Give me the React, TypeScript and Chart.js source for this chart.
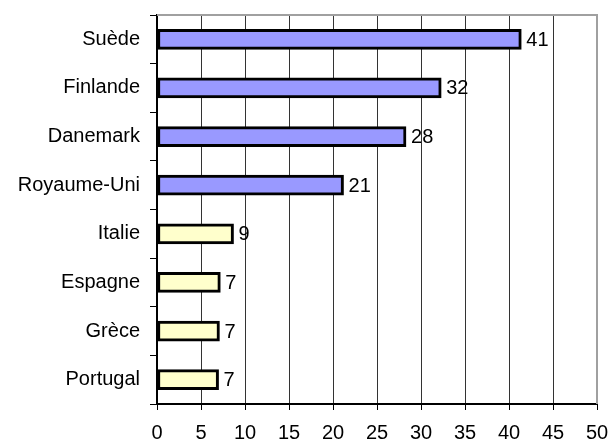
import React, { useEffect, useRef } from "react";
import { Chart, registerables } from "chart.js";

Chart.register(...registerables);

const categories = ["Suède", "Finlande", "Danemark", "Royaume-Uni", "Italie", "Espagne", "Grèce", "Portugal"];
const values = [41.4, 32.3, 28.3, 21.2, 8.7, 7.2, 7.1, 7.0];
const barColors = ["#9999FF", "#9999FF", "#9999FF", "#9999FF", "#FFFFCC", "#FFFFCC", "#FFFFCC", "#FFFFCC"];
const xMin = 0;
const xMax = 50;
const xStep = 5;

const FONT = "'Liberation Sans', Arial, sans-serif";

const frameAndLabels = {
  id: "frameAndLabels",
  afterDatasetsDraw(chart: any) {
    const { ctx, chartArea } = chart;
    ctx.save();
    ctx.strokeStyle = "#a0a0a0";
    ctx.lineWidth = 2;
    ctx.beginPath();
    ctx.moveTo(chartArea.left, chartArea.top);
    ctx.lineTo(chartArea.right, chartArea.top);
    ctx.lineTo(chartArea.right, chartArea.bottom);
    ctx.stroke();
    const meta = chart.getDatasetMeta(0);
    ctx.fillStyle = "#000";
    ctx.font = `20px ${FONT}`;
    ctx.textBaseline = "middle";
    ctx.textAlign = "left";
    meta.data.forEach((bar: any, i: number) => {
      const v = chart.data.datasets[0].data[i] as number;
      ctx.fillText(String(Math.round(v)), bar.x + 5, bar.y + 1);
    });
    ctx.restore();
  },
};

export default function App() {
  const ref = useRef<HTMLCanvasElement>(null);
  useEffect(() => {
    if (!ref.current) return;
    const chart = new Chart(ref.current, {
      type: "bar",
      data: {
        labels: categories,
        datasets: [
          {
            data: values,
            backgroundColor: barColors,
            borderColor: "#000",
            borderWidth: 3,
            borderSkipped: false,
            barThickness: 20,
          },
        ],
      },
      options: {
        indexAxis: "y",
        responsive: false,
        animation: false,
        layout: { padding: { top: 15, right: 11, left: 0, bottom: 0 } },
        plugins: {
          legend: { display: false },
          tooltip: { enabled: false },
        },
        scales: {
          x: {
            min: xMin,
            max: xMax,
            ticks: {
              stepSize: xStep,
              color: "#000",
              font: { family: FONT, size: 20 },
              padding: 11,
              maxRotation: 0,
            },
            grid: {
              color: "#333",
              lineWidth: 1,
              tickColor: "#000",
              tickLength: 6,
            },
            border: { display: true, color: "#000", width: 2 },
            afterFit(scale: any) {
              scale.height = 41;
              scale.paddingLeft = 0;
              scale.paddingRight = 0;
            },
          },
          y: {
            ticks: {
              color: "#000",
              font: { family: FONT, size: 20 },
              padding: 10,
            },
            grid: {
              drawOnChartArea: false,
              drawTicks: true,
              tickLength: 7,
              tickColor: "#000",
              lineWidth: 1,
            },
            border: { display: true, color: "#000", width: 2 },
            afterFit(scale: any) {
              scale.width = 157;
              scale.paddingTop = 0;
              scale.paddingBottom = 0;
            },
          },
        },
      },
      plugins: [frameAndLabels],
    });
    return () => chart.destroy();
  }, []);
  return (
    <canvas
      ref={ref}
      width={608}
      height={445}
      style={{ position: "absolute", left: 0, top: 0, background: "#fff" }}
    />
  );
}
